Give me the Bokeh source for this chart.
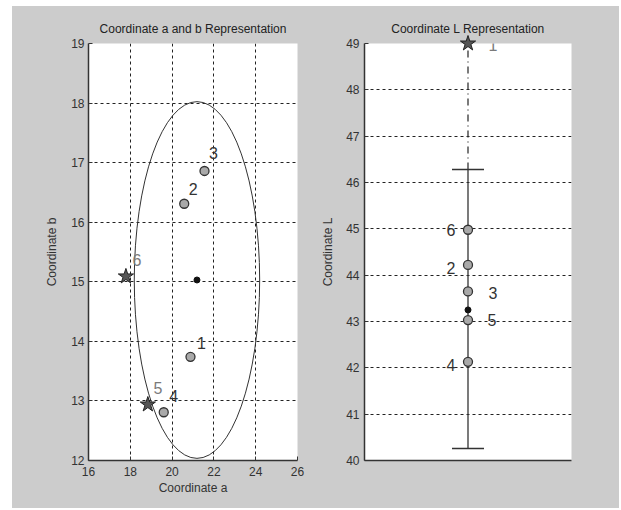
from bokeh.plotting import figure
from bokeh.models import (ColumnDataSource, LabelSet, Whisker, TeeHead, FixedTicker,
                          Spacer, Range1d)
from bokeh.layouts import row, column
from bokeh.core.properties import value
from bokeh.embed import file_html
from bokeh.resources import INLINE

# ---------------- data ----------------
sample_ids = ["1", "2", "3", "4", "5", "6"]
coord_a = [20.88, 20.58, 21.55, 19.60, 18.84, 17.79]
coord_b = [13.74, 16.31, 16.86, 12.81, 12.94, 15.09]
coord_L = [49.0, 44.22, 43.65, 42.13, 43.03, 44.98]
outlier_ab = [False, False, False, False, True, True]
outlier_L = [True, False, False, False, False, False]

ab_mean_a = [21.19]
ab_mean_b = [15.03]
ab_ellipse_width = [6.0]    # full extent along a
ab_ellipse_height = [5.99]  # full extent along b

L_mean = [43.25]
L_lower = [40.26]
L_upper = [46.28]
L_position = 1.0

a_ticks = [16, 18, 20, 22, 24, 26]
b_ticks = [12, 13, 14, 15, 16, 17, 18, 19]
L_ticks = [40, 41, 42, 43, 44, 45, 46, 47, 48, 49]

# ---------------- styles ----------------
FONT = "Liberation Sans"
BG = "#cccccc"
DARK = "#333333"
GREY_TXT = "#7a7a7a"
CIRCLE_FILL = "#a9a9a9"
STAR_FILL = "#555555"

# label offsets in pixels (right, up)
ab_label_dx = [11, 9, 9, 10, 10, 11]
ab_label_dy = [14, 15, 18, 16, 17, 16]
L_label_dx = [25, -17, 25, -17, 24, -17]
L_label_dy = [-1, -3, -2, -3, 0, 0]


def style_common(p):
    p.background_fill_color = "white"
    p.border_fill_color = BG
    p.outline_line_color = None
    p.title.text_font = FONT
    p.title.text_font_size = "12px"
    p.title.text_font_style = "normal"
    p.title.text_color = "#222222"
    p.title.align = "center"
    p.title.standoff = 15
    for ax in p.axis:
        ax.axis_line_color = DARK
        ax.axis_line_width = 1.5
        ax.major_tick_line_color = DARK
        ax.major_tick_in = 4
        ax.major_tick_out = 0
        ax.minor_tick_line_color = None
        ax.major_label_text_font = FONT
        ax.major_label_text_font_size = "12px"
        ax.major_label_text_color = DARK
        ax.axis_label_text_font = FONT
        ax.axis_label_text_font_size = "12px"
        ax.axis_label_text_font_style = "normal"
        ax.axis_label_text_color = DARK
    for g in p.grid:
        g.grid_line_color = "#222222"
        g.grid_line_dash = "3 3"
        g.grid_line_width = 1


# ---------------- left plot ----------------
p1 = figure(width=306, height=502, output_backend="svg", toolbar_location=None,
            x_range=Range1d(16, 26), y_range=Range1d(12, 19),
            title="Coordinate a and b Representation",
            x_axis_label="Coordinate a", y_axis_label="Coordinate b",
            min_border_left=76, min_border_right=21, min_border_top=37,
            min_border_bottom=48)
p1.xaxis.ticker = FixedTicker(ticks=a_ticks)
p1.yaxis.ticker = FixedTicker(ticks=b_ticks)
style_common(p1)
p1.xaxis.major_label_standoff = 6
p1.xaxis.axis_label_standoff = 2
p1.yaxis.major_label_standoff = 4
p1.yaxis.axis_label_standoff = 9

p1.ellipse(x=ab_mean_a, y=ab_mean_b, width=ab_ellipse_width, height=ab_ellipse_height,
           fill_color=None, line_color=DARK, line_width=1)
p1.scatter(ab_mean_a, ab_mean_b, size=6, color="#111111")

circ_src = ColumnDataSource(dict(
    a=[a for a, o in zip(coord_a, outlier_ab) if not o],
    b=[b for b, o in zip(coord_b, outlier_ab) if not o]))
star_src = ColumnDataSource(dict(
    a=[a for a, o in zip(coord_a, outlier_ab) if o],
    b=[b for b, o in zip(coord_b, outlier_ab) if o]))
p1.scatter("a", "b", source=circ_src, marker="circle", size=9,
           fill_color=CIRCLE_FILL, line_color=DARK, line_width=1.3)
p1.scatter("a", "b", source=star_src, marker="star", size=16,
           fill_color=STAR_FILL, line_color="#222222", line_width=1)

ab_lab_src = ColumnDataSource(dict(
    a=coord_a, b=coord_b, t=sample_ids, dx=ab_label_dx, dy=ab_label_dy,
    c=[GREY_TXT if o else DARK for o in outlier_ab]))
p1.add_layout(LabelSet(x="a", y="b", text="t", source=ab_lab_src,
                       x_offset="dx", y_offset="dy", text_color="c",
                       text_font=value(FONT), text_font_size="16px",
                       text_align="center", text_baseline="middle"))

# ---------------- right plot ----------------
p2 = figure(width=301, height=502, output_backend="svg", toolbar_location=None,
            x_range=Range1d(0.5, 1.5), y_range=Range1d(40, 49),
            title="Coordinate L Representation", y_axis_label="Coordinate L",
            min_border_left=45, min_border_right=48, min_border_top=37,
            min_border_bottom=48)
p2.yaxis.ticker = FixedTicker(ticks=L_ticks)
p2.xaxis.ticker = FixedTicker(ticks=[])
style_common(p2)
p2.xgrid.visible = False
p2.xaxis.major_label_text_font_size = "0px"
p2.yaxis.major_label_standoff = 5
p2.yaxis.axis_label_standoff = 8

Lx = [L_position] * len(coord_L)

# dash-dot line from upper limit up to the outlier
p2.segment(x0=[L_position], y0=L_upper,
           x1=[L_position], y1=[max(coord_L)],
           line_color=DARK, line_width=1.3, line_dash="7 4 1 4")
whisk_src = ColumnDataSource(dict(x=[L_position], lo=L_lower, hi=L_upper))
p2.add_layout(Whisker(base="x", lower="lo", upper="hi", source=whisk_src,
                      line_color=DARK, line_width=1.3,
                      upper_head=TeeHead(size=32, line_color=DARK, line_width=1.5),
                      lower_head=TeeHead(size=32, line_color=DARK, line_width=1.5)))
p2.scatter([L_position], L_mean, size=6, color="#111111")

Lc_src = ColumnDataSource(dict(
    x=[x for x, o in zip(Lx, outlier_L) if not o],
    y=[y for y, o in zip(coord_L, outlier_L) if not o]))
Ls_src = ColumnDataSource(dict(
    x=[x for x, o in zip(Lx, outlier_L) if o],
    y=[y for y, o in zip(coord_L, outlier_L) if o]))
p2.scatter("x", "y", source=Lc_src, marker="circle", size=9,
           fill_color=CIRCLE_FILL, line_color=DARK, line_width=1.3)
p2.scatter("x", "y", source=Ls_src, marker="star", size=16,
           fill_color=STAR_FILL, line_color="#222222", line_width=1,
           level="overlay")

L_lab_src = ColumnDataSource(dict(
    x=Lx, y=coord_L, t=sample_ids, dx=L_label_dx, dy=L_label_dy,
    c=[GREY_TXT if o else DARK for o in outlier_L]))
p2.add_layout(LabelSet(x="x", y="y", text="t", source=L_lab_src,
                       x_offset="dx", y_offset="dy", text_color="c",
                       text_font=value(FONT), text_font_size="16px",
                       text_align="center", text_baseline="middle"))

plots = row(p1, p2, styles={"background-color": BG})
layout = column(Spacer(width=619, height=6),
                row(Spacer(width=12, height=502), plots))
open("out.html", "w").write(file_html(layout, INLINE))
